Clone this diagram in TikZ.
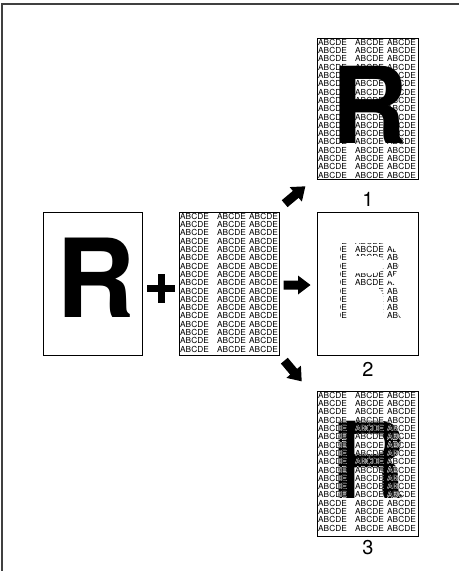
\documentclass[tikz,border=0pt]{standalone}
\usepackage{fontspec}
\setmainfont{TeX Gyre Heros}
\newcommand\abcrows[4]{%
  \foreach \i in {0,...,16}{%
    \foreach \c in {1,38,70}{%
      \node[txt,#3] (#4-\i-\c) at ({#1+\c},{#2+7.3+8.3*\i}) {ABCDE};}}}
\newcommand\blockarrow[3]{%
  \fill[shift={(#1,#2)},rotate=#3] (-13.5,-4.5) -- (1,-4.5) -- (1,-9.5) -- (13.5,0)
     -- (1,9.5) -- (1,4.5) -- (-13.5,4.5) -- cycle;}
\begin{document}
\begin{tikzpicture}[x=1pt,y=-1pt,
  box/.style={draw=black,line width=0.9pt},
  txt/.style={anchor=base west,inner sep=0pt,font=\fontsize{8.3}{8.3}\selectfont},
  bigR/.style={anchor=base,inner sep=0pt,font=\fontsize{106}{106}\selectfont\bfseries},
  lbl/.style={anchor=north,inner sep=0pt,font=\fontsize{20}{20}\selectfont}]
\useasboundingbox (0,0) rectangle (459,571);
% outer frame (top and left)
\draw[line width=1.2pt,black!75] (2,571) -- (2,4) -- (459,4);
% left original
\draw[box] (43,212) rectangle (142,355);
\node[bigR,font=\fontsize{109}{109}\selectfont\bfseries] (R0) at (95.9,317) {R};
% plus
\fill (147,284.5) rectangle (175,291.5);
\fill (157.5,274) rectangle (164.5,303);
% middle text pattern
\begin{scope}
  \clip (179,212) rectangle (279,355);
  \abcrows{179}{212}{}{m}
\end{scope}
\draw[box] (179,212) rectangle (279,355);
% arrows
\blockarrow{295}{195}{40}
\blockarrow{297}{285}{0}
\blockarrow{293}{371}{-50}
% result 1
\begin{scope}
  \clip (317,38) rectangle (418,179);
  \abcrows{317}{38}{}{a}
  \node[bigR] (R1) at (369.4,143) {R};
\end{scope}
\draw[box] (317,38) rectangle (418,179);
\node[lbl] (l1) at (368,192) {1};
% result 2: text only where the R is
\begin{scope}
  \clip (317,212) rectangle (418,355);
  \abcrows{317}{212}{}{b}
  \begin{scope}[shift={(340,318)}]
    \fill[white,even odd rule] (-23,-106) rectangle (78,37)
      (0,0) -- (0,-75) -- (37,-75) .. controls (52,-75) and (59,-66) .. (59,-56)
      .. controls (59,-47) and (54,-41) .. (48,-38)
      .. controls (55,-35) and (58,-30) .. (58,-21) -- (58,-8)
      .. controls (58,-4) and (59,-2) .. (61,0) -- (45,0)
      .. controls (44,-2) and (43,-5) .. (43,-10) -- (43,-19)
      .. controls (43,-28) and (39,-32) .. (30,-32) -- (15,-32) -- (15,0) -- cycle
      (15,-45) -- (35,-45) .. controls (41,-45) and (44,-49) .. (44,-54)
      .. controls (44,-59) and (41,-62) .. (35,-62) -- (15,-62) -- cycle;
  \end{scope}
\end{scope}
\draw[box] (317,212) rectangle (418,355);
\node[lbl] (l2) at (368,362) {2};
% result 3: text over a black R
\begin{scope}
  \clip (317,391) rectangle (418,536);
  \node[bigR] (R3) at (369,498) {R};
  \foreach \dx/\dy [count=\k] in {0.28/0,-0.28/0,0/0.28,0/-0.28}{%
    \abcrows{317+\dx}{391+\dy}{white}{h\k}}
  \abcrows{317}{391}{}{c}
\end{scope}
\draw[box] (317,391) rectangle (418,536);
\node[lbl] (l3) at (368,540) {3};
\end{tikzpicture}
\end{document}
